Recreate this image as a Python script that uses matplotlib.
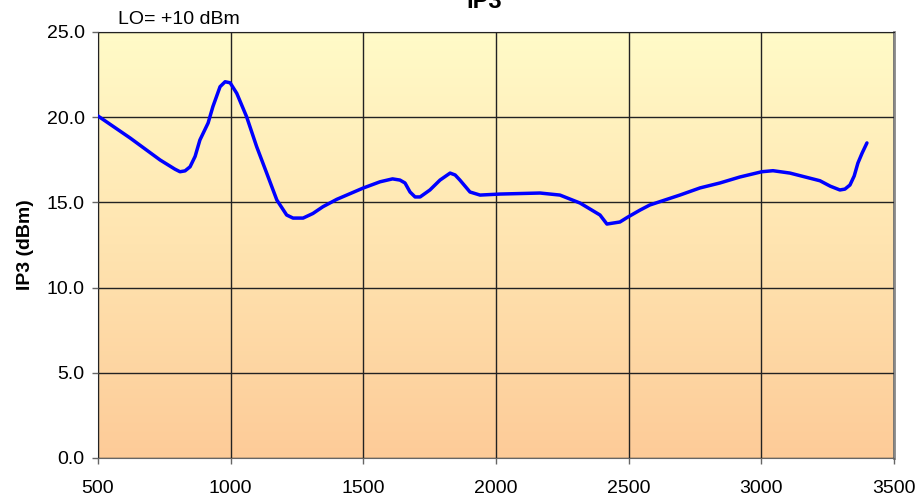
import matplotlib.pyplot as plt
import numpy as np
from matplotlib.colors import LinearSegmentedColormap
from matplotlib.ticker import FormatStrFormatter

plt.rcParams['font.family'] = ['Liberation Sans', 'DejaVu Sans']

# frequency (MHz) and IP3 (dBm)
freq = [500, 621, 734, 790, 809, 828, 847, 866, 884, 915, 933, 960, 979, 998,
        1023, 1060, 1098, 1136, 1174, 1211, 1235, 1273, 1310, 1348, 1400,
        1499, 1563, 1610, 1638, 1657, 1676, 1695, 1714, 1751, 1789, 1827,
        1846, 1864, 1902, 1940, 2015, 2166, 2241, 2317, 2392, 2418, 2467,
        2497, 2543, 2580, 2693, 2769, 2844, 2919, 3002, 3044, 3108, 3221,
        3260, 3296, 3315, 3334, 3350, 3364, 3380, 3398]
ip3 = [20.07, 18.78, 17.49, 16.95, 16.80, 16.85, 17.09, 17.70, 18.66, 19.66,
       20.62, 21.79, 22.08, 22.02, 21.40, 20.03, 18.27, 16.71, 15.14, 14.26,
       14.08, 14.08, 14.35, 14.75, 15.18, 15.84, 16.21, 16.38, 16.31, 16.14,
       15.61, 15.32, 15.32, 15.73, 16.31, 16.72, 16.61, 16.31, 15.61, 15.43,
       15.49, 15.55, 15.43, 14.96, 14.26, 13.73, 13.85, 14.14, 14.55, 14.85,
       15.43, 15.85, 16.14, 16.49, 16.80, 16.86, 16.72, 16.27, 15.95, 15.73,
       15.78, 16.02, 16.55, 17.31, 17.90, 18.49]

fig = plt.figure(figsize=(9.2, 5.01), dpi=100)
ax = fig.add_axes([98 / 920, 43 / 501, 796 / 920, 426 / 501])

# yellow-to-peach background gradient
cmap = LinearSegmentedColormap.from_list("bg", ["#FDCB98", "#FFE4B0", "#FFFBC8"])
grad = np.linspace(0, 1, 256).reshape(-1, 1)
ax.imshow(grad, cmap=cmap, origin="lower", aspect="auto",
          extent=[500, 3500, 0, 25], zorder=0)

ax.plot(freq, ip3, color="#0000FF", lw=2.5, zorder=3,
        solid_joinstyle="round", solid_capstyle="round")

ax.set_xlim(500, 3500)
ax.set_ylim(0, 25)
ax.set_xticks(range(500, 3501, 500))
ax.set_yticks(np.arange(0, 25.1, 5))
ax.yaxis.set_major_formatter(FormatStrFormatter("%.1f"))
ax.grid(color="#222222", lw=1, zorder=1)
ax.set_axisbelow(False)

for s in ["left", "bottom"]:
    ax.spines[s].set_color("#666666")
ax.spines["right"].set_color("#888888")
ax.spines["right"].set_linewidth(2)
ax.spines["top"].set_color("#222222")

ax.tick_params(direction="out", length=4.5, width=1, color="#666666",
               labelsize=14)
ax.tick_params(axis="y", pad=5)
ax.tick_params(axis="x", pad=11)

ax.set_ylabel("IP3 (dBm)", fontsize=14, fontweight="bold", labelpad=9)

fig.text(484 / 920, 1 - 8 / 501, "IP3", ha="center", va="baseline",
         fontsize=17, fontweight="bold")
fig.text(118 / 920, 1 - 24 / 501, "LO= +10 dBm", ha="left", va="baseline",
         fontsize=14)

fig.savefig("out.png", dpi=100)
